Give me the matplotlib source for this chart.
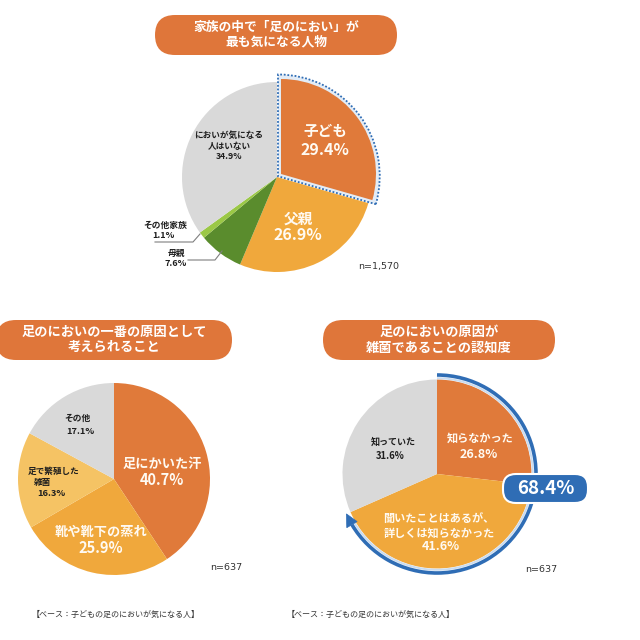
import numpy as np
import matplotlib
matplotlib.use("Agg")
import matplotlib.pyplot as plt
from matplotlib.patches import FancyBboxPatch, Wedge, Arc, Polygon

plt.rcParams['font.family'] = ['Noto Sans CJK JP', 'DejaVu Sans']

# ---------------- data ----------------
top_title = "家族の中で「足のにおい」が\n最も気になる人物"
top_labels = ["子ども", "父親", "母親", "その他家族", "においが気になる\n人はいない"]
top_values = [29.4, 26.9, 7.6, 1.1, 34.9]
top_n = "n=1,570"

cause_title = "足のにおいの一番の原因として\n考えられること"
cause_labels = ["足にかいた汗", "靴や靴下の蒸れ", "足で繁殖した\n雑菌", "その他"]
cause_values = [40.7, 25.9, 16.3, 17.1]
cause_n = "n=637"

aware_title = "足のにおいの原因が\n雑菌であることの認知度"
aware_labels = ["知らなかった", "聞いたことはあるが、\n詳しくは知らなかった", "知っていた"]
aware_values = [26.8, 41.6, 31.6]
aware_n = "n=637"

base_note = "【ベース：子どもの足のにおいが気になる人】"

# ---------------- style ----------------
DARK_OR = '#E07A3A'
OR = '#F0A83C'
LIGHT_OR = '#F5C364'
GRAY = '#D9D9D9'
GREEN = '#5A8C2D'
LGREEN = '#9BC846'
TITLE_BG = '#DF763A'
BLUE = '#2F6DB5'
WHITE_TXT = '#FFFAF2'
BLACK_TXT = '#1E1E1E'

fig = plt.figure(figsize=(6.4, 6.4), dpi=100)
ax = fig.add_axes([0, 0, 1, 1])
H = 640


def Y(py):
    return H - py


def title_box(cx, cy, w, h, text, size):
    box = FancyBboxPatch((cx - w / 2, Y(cy) - h / 2), w, h,
                         boxstyle=f"round,pad=0,rounding_size={h/2}",
                         facecolor=TITLE_BG, edgecolor='none', zorder=2)
    ax.add_patch(box)
    ax.text(cx, Y(cy) + 0.5, text, ha='center', va='center', color='white',
            fontsize=size, fontweight='bold', linespacing=1.15, zorder=3)


def label(x, y, s, size, color, weight='bold', ha='center'):
    ax.text(x, Y(y), s, ha=ha, va='center', fontsize=size, color=color,
            fontweight=weight, zorder=6)


# ---------------- top pie ----------------
title_box(276, 35, 242, 40, top_title, 9.2)
tc = (277, Y(177))
tr = 95
wedges, _ = ax.pie(top_values, colors=[DARK_OR, OR, GREEN, LGREEN, GRAY],
                   startangle=90, counterclock=False, center=tc, radius=tr,
                   explode=[5, 0, 0, 0, 0], frame=True,
                   wedgeprops=dict(linewidth=0))
w0 = wedges[0]
w0.set_zorder(3)
half = np.radians(abs(w0.theta2 - w0.theta1) / 2)
mid = np.radians((w0.theta1 + w0.theta2) / 2)
d = 3.0
shift = d / np.sin(half)
oc = (w0.center[0] - shift * np.cos(mid), w0.center[1] - shift * np.sin(mid))
outline = Wedge(oc, w0.r + d + shift, w0.theta1, w0.theta2,
                facecolor='#E3ECF6', edgecolor=BLUE, linewidth=1.3,
                linestyle=(0, (1, 1)), zorder=2)
ax.add_patch(outline)

label(325, 131, top_labels[0], 10.5, WHITE_TXT)
label(325, 150, f"{top_values[0]}%", 11.5, WHITE_TXT)
label(298, 219, top_labels[1], 10.5, WHITE_TXT)
label(298, 235, f"{top_values[1]}%", 11.5, WHITE_TXT)
label(229, 146, top_labels[4] + f"\n{top_values[4]}%", 6.2, BLACK_TXT)
ax.text(229, Y(146), "", fontsize=1)
label(165, 225, top_labels[3], 6.3, BLACK_TXT)
label(163, 236, f"{top_values[3]}%", 6.5, BLACK_TXT)
label(176, 253, top_labels[2], 6.3, BLACK_TXT)
label(176, 264, f"{top_values[2]}%", 6.5, BLACK_TXT)
ax.plot([155, 193, 200], [Y(242), Y(242), Y(234)], color='#7F7F7F', lw=0.8, zorder=5)
ax.plot([188, 215, 222], [Y(260), Y(260), Y(251)], color='#7F7F7F', lw=0.8, zorder=5)
ax.text(379, Y(267), top_n, ha='center', va='center', fontsize=6.8,
        color='#333333', family='DejaVu Sans')

# ---------------- bottom-left pie ----------------
title_box(114, 340, 236, 40, cause_title, 9.5)
ax.pie(cause_values, colors=[DARK_OR, OR, LIGHT_OR, GRAY], startangle=90,
       counterclock=False, center=(114, Y(479)), radius=96, frame=True,
       wedgeprops=dict(linewidth=0))
label(162, 464, cause_labels[0], 9.5, WHITE_TXT)
label(162, 480, f"{cause_values[0]}%", 10.5, WHITE_TXT)
label(101, 532, cause_labels[1], 9.5, WHITE_TXT)
label(101, 548, f"{cause_values[1]}%", 10.5, WHITE_TXT)
l1, l2 = cause_labels[2].split("\n")
label(54, 471, l1, 6.2, BLACK_TXT)
label(42, 482, l2, 6.2, BLACK_TXT)
label(51, 493, f"{cause_values[2]}%", 6.6, BLACK_TXT)
label(77, 418, cause_labels[3], 6.3, BLACK_TXT)
label(80, 431, f"{cause_values[3]}%", 6.6, BLACK_TXT)
ax.text(226, Y(568), cause_n, ha='center', va='center', fontsize=6.8,
        color='#333333', family='DejaVu Sans')

# ---------------- bottom-right pie ----------------
title_box(439, 340, 232, 40, aware_title, 9.5)
acx, acy, ar = 437, Y(474), 94.5
ax.pie(aware_values, colors=[DARK_OR, OR, GRAY], startangle=90,
       counterclock=False, center=(acx, acy), radius=ar, frame=True,
       wedgeprops=dict(linewidth=0))
label(480, 438, aware_labels[0], 8.0, WHITE_TXT)
label(479, 454, f"{aware_values[0]}%", 9.0, WHITE_TXT)
a1, a2 = aware_labels[1].split("\n")
label(439, 519, a1, 8.0, WHITE_TXT)
label(439, 533, a2, 8.0, WHITE_TXT)
label(441, 547, f"{aware_values[1]}%", 9.0, WHITE_TXT)
label(393, 442, aware_labels[2], 6.5, BLACK_TXT)
label(390, 456, f"{aware_values[2]}%", 6.8, BLACK_TXT)
ax.text(541, Y(570), aware_n, ha='center', va='center', fontsize=6.8,
        color='#333333', family='DejaVu Sans')

# arc with arrow covering the "didn't know" share
unaware = aware_values[0] + aware_values[1]
R = 99
end_ang = 90 - 360 * unaware / 100
head_deg = 7
ax.add_patch(Arc((acx, acy), 2 * (R - 3.2), 2 * (R - 3.2), theta1=end_ang + head_deg,
                 theta2=90, color='#CADCF0', lw=1.4, zorder=4))
ax.add_patch(Arc((acx, acy), 2 * R, 2 * R, theta1=end_ang + head_deg, theta2=90,
                 color=BLUE, lw=2.6, zorder=4))
tip = np.radians(end_ang)
base = np.radians(end_ang + head_deg)
pts = [(acx + R * np.cos(tip), acy + R * np.sin(tip)),
       (acx + (R + 6) * np.cos(base), acy + (R + 6) * np.sin(base)),
       (acx + (R - 6) * np.cos(base), acy + (R - 6) * np.sin(base))]
ax.add_patch(Polygon(pts, closed=True, facecolor=BLUE, edgecolor=BLUE, lw=0.5, zorder=5))

badge = FancyBboxPatch((503, Y(503)), 85, 29,
                       boxstyle="round,pad=0,rounding_size=13",
                       facecolor=BLUE, edgecolor='white', lw=1.5, zorder=7)
ax.add_patch(badge)
ax.text(545.5, Y(488.5), f"{unaware:.1f}%", ha='center', va='center',
        fontsize=13.5, fontweight='bold', color='white', zorder=8)

# ---------------- footers ----------------
ax.text(116, Y(614), base_note, ha='center', va='center', fontsize=5.8, color='#333333')
ax.text(371, Y(614), base_note, ha='center', va='center', fontsize=5.8, color='#333333')

ax.set_xlim(0, 640)
ax.set_ylim(0, 640)
ax.set_aspect('equal')
ax.set_axis_off()

fig.savefig("out.png", dpi=100, facecolor='white')
